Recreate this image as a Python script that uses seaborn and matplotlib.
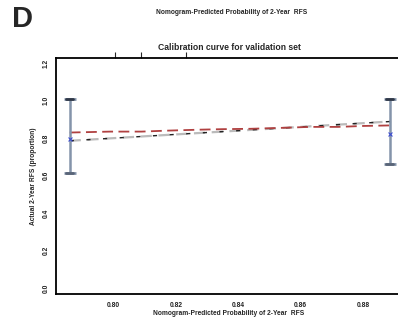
import numpy as np
import pandas as pd
import matplotlib
matplotlib.use("Agg")
import matplotlib.pyplot as plt
import seaborn as sns

# Data
pred_curve = [0.786, 0.799, 0.809, 0.817, 0.827, 0.835, 0.844, 0.854, 0.863, 0.872, 0.880, 0.889]
obs_curve = [0.830, 0.835, 0.835, 0.840, 0.845, 0.848, 0.850, 0.855, 0.860, 0.860, 0.865, 0.868]
ideal_x = [0.786, 0.889]
ideal_y = [0.786, 0.889]
group_pred = [0.786, 0.8885]
group_obs = [0.795, 0.820]
group_lo = [0.615, 0.660]
group_hi = [1.010, 1.010]
rug_positions = [0.8006, 0.809, 0.8232]
xticks = [0.80, 0.82, 0.84, 0.86, 0.88]
yticks = [0.0, 0.2, 0.4, 0.6, 0.8, 1.0, 1.2]
xlabel = "Nomogram-Predicted Probability of 2-Year  RFS"
ylabel = "Actual 2-Year RFS (proportion)"
title = "Calibration curve for validation set"

sns.set_style("white")
plt.rcParams['font.family'] = ['Liberation Sans', 'DejaVu Sans']

fig = plt.figure(figsize=(3.98, 3.22), dpi=100)
ax = fig.add_axes([56/398, 1 - 294/322, 1.0 - 56/398 + 0.01, (294 - 58)/322])

df_curve = pd.DataFrame({"x": pred_curve, "y": obs_curve})
df_ideal = pd.DataFrame({"x": ideal_x, "y": ideal_y})

sns.lineplot(data=df_ideal, x="x", y="y", ax=ax, color="#bbbbbb", lw=1.6,
             linestyle=(0, (5, 3)))
sns.lineplot(data=df_ideal, x="x", y="y", ax=ax, color="#222222", lw=1.0,
             linestyle=(0, (3, 9)))
sns.lineplot(data=df_curve, x="x", y="y", ax=ax, color="#b04040", lw=1.3,
             linestyle=(0, (6, 3)))

yerr = [np.array(group_obs) - np.array(group_lo), np.array(group_hi) - np.array(group_obs)]
ax.errorbar(group_pred, group_obs, yerr=yerr, fmt="none", ecolor="#8494aa",
            elinewidth=1.8, capsize=4, capthick=2.0)
for xp, lo, hi in zip(group_pred, group_lo, group_hi):
    ax.plot([xp - 0.0012, xp + 0.0012], [hi, hi], color="#303848", lw=2.0)
    ax.plot([xp - 0.0012, xp + 0.0012], [lo, lo], color="#5a6578", lw=2.0)
sns.scatterplot(x=group_pred, y=group_obs, ax=ax, color="#3a4ad0", s=8,
                marker="x", linewidth=0.8, zorder=5)

ax.set_xlim(0.7816, 0.8925)
ax.set_ylim(-0.03, 1.227)
ax.set_xticks(xticks)
ax.set_xticklabels([f"{v:.2f}" for v in xticks], fontsize=4.8, fontweight="bold")
ax.set_yticks(yticks)
ax.set_yticklabels([f"{v:.1f}" for v in yticks], fontsize=4.8, fontweight="bold",
                   rotation=90, va="center")
ax.tick_params(axis="both", direction="out", length=2.5, width=0.8, colors="#222222")
ax.tick_params(axis="x", pad=3)
ax.tick_params(axis="y", pad=2)
ax.set_xlabel(xlabel, fontsize=4.8, fontweight="bold", labelpad=1)
ax.set_ylabel(ylabel, fontsize=4.8, fontweight="bold", labelpad=4)
ax.set_title(title, fontsize=6.2, fontweight="bold", pad=6)

for side in ["left", "bottom", "top"]:
    ax.spines[side].set_color("black")
    ax.spines[side].set_linewidth(1.3)
ax.spines["right"].set_visible(False)

sec = ax.secondary_xaxis("top")
sec.set_xticks(rug_positions)
sec.set_xticklabels([])
sec.tick_params(direction="out", length=4, width=0.8)
sec.spines["top"].set_visible(False)

fig.text(232/398, 1 - 13/322, xlabel, fontsize=4.8, fontweight="bold",
         ha="center", va="center")
fig.text(22/398, 1 - 19/322, "D", fontsize=21, fontweight="bold",
         ha="center", va="center")

fig.savefig("out.png", dpi=100)
